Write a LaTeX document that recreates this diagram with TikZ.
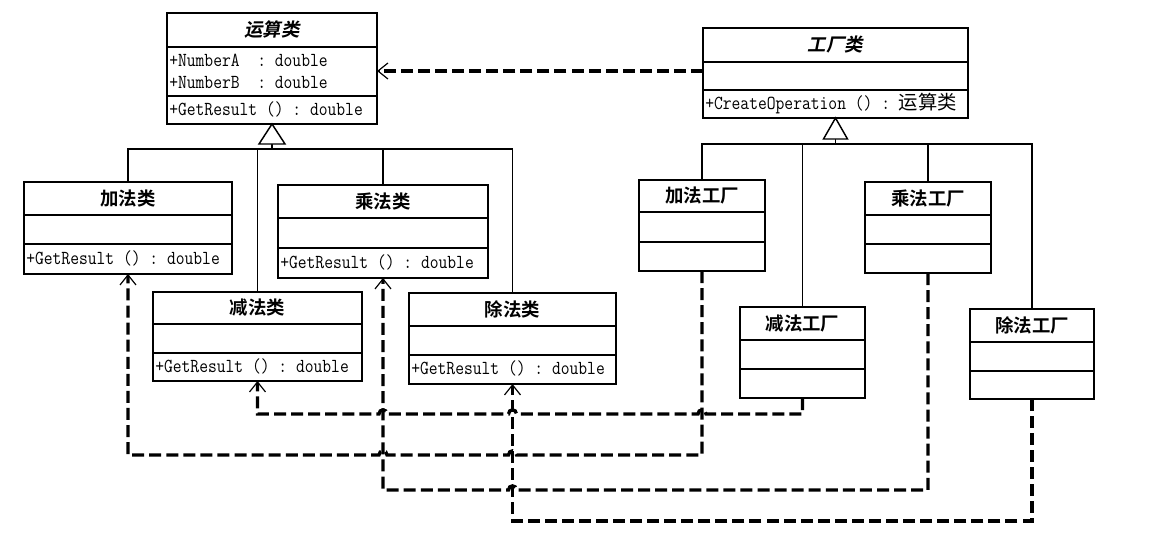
\documentclass[tikz,border=0pt]{standalone}
\usepackage{fontspec}
\setmonofont{Latin Modern Mono}[FakeStretch=0.86]
\newfontfamily\cjk{Noto Sans CJK SC}
\newfontfamily\cjkb{Noto Sans CJK SC}[UprightFont=* Bold]
\newfontfamily\cjkbi{Noto Sans CJK SC}[UprightFont=* Bold, FakeSlant=0.2]
\usetikzlibrary{arrows.meta,calc}

\tikzset{
  clsbox/.style={draw, rectangle, line width=1.4pt, inner sep=0pt, outer sep=0pt},
  divider/.style={line width=1.2pt},
  titletext/.style={font=\cjkb\fontsize{13.8}{14}\selectfont, inner sep=0pt},
  membertext/.style={font=\ttfamily\fontsize{14.9}{15}\selectfont, inner sep=0pt, anchor=west},
  inherit/.style={line width=0.8pt},
  hollowtri/.style={line width=1.1pt, fill=white, line join=miter},
  depend/.style={line width=2.5pt, dash pattern=on 9pt off 3.8pt},
  openhead/.style={-{Straight Barb[length=7.5pt,width=12pt,line width=0.9pt]}}
}

% class box: name, left, top, right, bottom, first divider, second divider, title
\newcommand\umlclass[8]{%
  \node[clsbox, minimum width={(#4-#2)*0.75pt}, minimum height={(#5-#3)*0.75pt}]
    (#1) at ({(#2+#4)/2},{(#3+#5)/2}) {};
  \draw[divider] (#1.west |- 0,#6) -- (#1.east |- 0,#6);
  \draw[divider] (#1.west |- 0,#7) -- (#1.east |- 0,#7);
  \node[titletext] (#1-title) at ({(#2+#4)/2},{(#3+#6)/2}) {#8};
}

% small bridge of a leftward horizontal line over the vertical below node #1
\newcommand\hopover[2]{-- ($(#1.south |- 0,#2)+(4,0)$)
  .. controls ($(#1.south |- 0,#2)+(4,-5.5)$) and ($(#1.south |- 0,#2)+(-4,-5.5)$)
  .. ($(#1.south |- 0,#2)+(-4,0)$)}

\begin{document}
\begin{tikzpicture}[x=0.75pt,y=-0.75pt]
\useasboundingbox[fill=white] (0,0) rectangle (1154,539);

% ---------- product classes ----------
\umlclass{op}{167}{13}{377}{124}{47}{96}{\cjkbi 运算类}
\node[membertext] (op-a) at (169,60) {+NumberA~~:~double};
\node[membertext] (op-b) at (169,82) {+NumberB~~:~double};
\node[membertext] (op-m) at (169,109) {+GetResult~()~:~double};

\umlclass{add}{24}{182}{232}{274}{215}{244}{加法类}
\node[membertext] (add-m) at (26,258) {+GetResult~()~:~double};

\umlclass{mul}{278}{185}{488}{278}{218}{248}{乘法类}
\node[membertext] (mul-m) at (280,262) {+GetResult~()~:~double};

\umlclass{sub}{153}{292}{362}{381}{324}{353}{减法类}
\node[membertext] (sub-m) at (155,366) {+GetResult~()~:~double};

\umlclass{div}{409}{293}{616}{384}{326}{355}{除法类}
\node[membertext] (div-m) at (411,368) {+GetResult~()~:~double};

% ---------- factory classes ----------
\umlclass{fac}{703}{28}{968}{118}{62}{90}{\cjkbi 工厂类}
\node[membertext] (fac-m) at (705,104) {+CreateOperation~()~:~{\cjk\fontsize{14.5}{15}\selectfont 运算类}};

\umlclass{addF}{639}{180}{765}{271}{212}{242}{加法工厂}
\umlclass{mulF}{865}{182}{991}{273}{215}{244}{乘法工厂}
\umlclass{subF}{740}{307}{865}{398}{340}{369}{减法工厂}
\umlclass{divF}{970}{309}{1094}{399}{342}{371}{除法工厂}

% ---------- generalization: products -> 运算类 ----------
\coordinate (opbus) at (0,149);
\draw[inherit] (op.south) ++(0,20) -- (op.south |- opbus);
\draw[inherit] (add.north) |- (div.north |- opbus) -- (div.north);
\draw[inherit] (sub.north) -- (sub.north |- opbus);
\draw[inherit] (mul.north) -- (mul.north |- opbus);
\draw[hollowtri] (op.south) -- ++(-13,20) -- ++(26,0) -- cycle;

% ---------- generalization: factories -> 工厂类 ----------
\coordinate (facbus) at (0,144);
\draw[inherit] (fac.south) ++(0,21) -- (fac.south |- facbus);
\draw[inherit] (addF.north) |- (divF.north |- facbus) -- (divF.north);
\draw[inherit] (subF.north) -- (subF.north |- facbus);
\draw[inherit] (mulF.north) -- (mulF.north |- facbus);
\draw[hollowtri] (fac.south) -- ++(-12,21) -- ++(24,0) -- cycle;

% ---------- dependencies ----------
\draw[depend, openhead] (fac.west |- 0,71) -- (op.east |- 0,71);

\draw[depend, openhead] (subF.south) -- (subF.south |- 0,414)
  \hopover{addF}{414} \hopover{div}{414} \hopover{mul}{414}
  -- (sub.south |- 0,414) -- (sub.south);

\draw[depend, openhead] (addF.south) -- (addF.south |- 0,455)
  \hopover{div}{455} \hopover{mul}{455}
  -- (add.south |- 0,455) -- (add.south);

\draw[depend, openhead] (mulF.south) -- (mulF.south |- 0,490)
  \hopover{div}{490}
  -- (mul.south |- 0,490) -- (mul.south);

\draw[depend, openhead] (divF.south) -- (divF.south |- 0,521)
  -- (div.south |- 0,521) -- (div.south);
\end{tikzpicture}
\end{document}
